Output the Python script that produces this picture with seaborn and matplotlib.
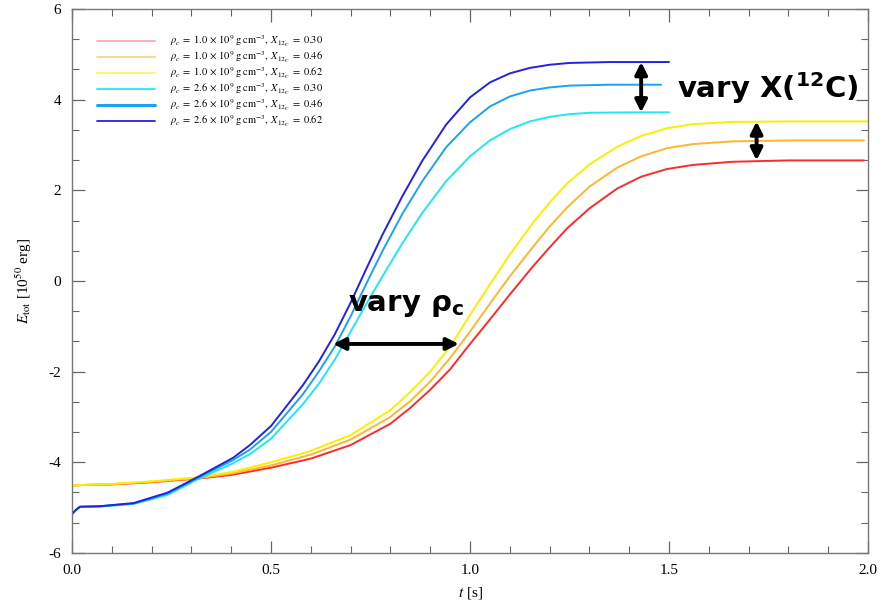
import numpy as np
import pandas as pd
import matplotlib
matplotlib.use("Agg")
import matplotlib.pyplot as plt
import seaborn as sns

# curves: t [s], E_tot [1e50 erg]
t_blue_062 = [0.0, 0.01, 0.02, 0.07, 0.155, 0.24, 0.317, 0.405, 0.447, 0.5, 0.58, 0.62, 0.66, 0.70,
              0.74, 0.78, 0.83, 0.88, 0.94, 1.0, 1.05, 1.1, 1.15, 1.2, 1.25, 1.35, 1.5]
e_blue_062 = [-5.14, -5.05, -4.98, -4.97, -4.90, -4.67, -4.32, -3.90, -3.62, -3.20, -2.30, -1.78, -1.18, -0.48,
              0.28, 1.02, 1.87, 2.65, 3.45, 4.05, 4.38, 4.58, 4.70, 4.77, 4.81, 4.83, 4.83]

t_blue_046 = [0.0, 0.01, 0.02, 0.07, 0.155, 0.24, 0.317, 0.405, 0.447, 0.5, 0.58, 0.62, 0.66, 0.70,
              0.74, 0.78, 0.83, 0.88, 0.94, 1.0, 1.05, 1.1, 1.15, 1.2, 1.25, 1.35, 1.48]
e_blue_046 = [-5.14, -5.05, -4.98, -4.97, -4.91, -4.69, -4.34, -3.95, -3.72, -3.33, -2.50, -2.00, -1.45, -0.78,
              -0.05, 0.66, 1.48, 2.20, 2.95, 3.50, 3.85, 4.07, 4.20, 4.27, 4.31, 4.33, 4.33]

t_blue_030 = [0.0, 0.01, 0.02, 0.07, 0.155, 0.24, 0.317, 0.405, 0.447, 0.5, 0.58, 0.62, 0.66, 0.70,
              0.74, 0.78, 0.83, 0.88, 0.94, 1.0, 1.05, 1.1, 1.15, 1.2, 1.25, 1.3, 1.4, 1.5]
e_blue_030 = [-5.14, -5.05, -4.99, -4.98, -4.92, -4.72, -4.37, -4.02, -3.82, -3.48, -2.72, -2.27, -1.74, -1.12,
              -0.50, 0.10, 0.83, 1.50, 2.20, 2.75, 3.10, 3.35, 3.52, 3.62, 3.68, 3.71, 3.72, 3.72]

t_low_062 = [0.0, 0.01, 0.03, 0.1, 0.2, 0.317, 0.4, 0.5, 0.6, 0.7, 0.8, 0.85, 0.9, 0.95, 1.0,
             1.05, 1.1, 1.158, 1.2, 1.244, 1.3, 1.37, 1.43, 1.495, 1.56, 1.66, 1.8, 2.0]
e_low_062 = [-4.53, -4.51, -4.50, -4.48, -4.42, -4.33, -4.22, -4.00, -3.75, -3.40, -2.85, -2.45, -2.00, -1.45, -0.75,
             -0.08, 0.58, 1.28, 1.73, 2.15, 2.57, 2.96, 3.20, 3.37, 3.46, 3.51, 3.52, 3.52]

t_low_046 = [0.0, 0.01, 0.03, 0.1, 0.2, 0.317, 0.4, 0.5, 0.6, 0.7, 0.8, 0.85, 0.9, 0.95, 1.0,
             1.05, 1.1, 1.158, 1.2, 1.244, 1.3, 1.37, 1.43, 1.495, 1.56, 1.66, 1.8, 1.99]
e_low_046 = [-4.53, -4.51, -4.50, -4.48, -4.43, -4.35, -4.25, -4.07, -3.83, -3.50, -3.00, -2.65, -2.22, -1.70, -1.12,
             -0.50, 0.10, 0.75, 1.20, 1.62, 2.08, 2.50, 2.75, 2.93, 3.02, 3.08, 3.10, 3.10]

t_low_030 = [0.0, 0.01, 0.03, 0.1, 0.2, 0.317, 0.4, 0.5, 0.6, 0.7, 0.8, 0.85, 0.9, 0.95, 0.99,
             1.05, 1.1, 1.158, 1.2, 1.244, 1.3, 1.37, 1.43, 1.495, 1.56, 1.66, 1.8, 1.99]
e_low_030 = [-4.53, -4.51, -4.50, -4.49, -4.44, -4.36, -4.28, -4.12, -3.92, -3.62, -3.15, -2.80, -2.40, -1.95, -1.50,
             -0.85, -0.30, 0.32, 0.74, 1.16, 1.60, 2.04, 2.30, 2.47, 2.56, 2.63, 2.66, 2.66]

labels = [
    r"$\rho_c\;=\;1.0\,\times\,10^9\;\mathrm{g\;cm^{-3}},\;X_{12_{\mathrm{C}}}\;=\;0.30$",
    r"$\rho_c\;=\;1.0\,\times\,10^9\;\mathrm{g\;cm^{-3}},\;X_{12_{\mathrm{C}}}\;=\;0.46$",
    r"$\rho_c\;=\;1.0\,\times\,10^9\;\mathrm{g\;cm^{-3}},\;X_{12_{\mathrm{C}}}\;=\;0.62$",
    r"$\rho_c\;=\;2.6\,\times\,10^9\;\mathrm{g\;cm^{-3}},\;X_{12_{\mathrm{C}}}\;=\;0.30$",
    r"$\rho_c\;=\;2.6\,\times\,10^9\;\mathrm{g\;cm^{-3}},\;X_{12_{\mathrm{C}}}\;=\;0.46$",
    r"$\rho_c\;=\;2.6\,\times\,10^9\;\mathrm{g\;cm^{-3}},\;X_{12_{\mathrm{C}}}\;=\;0.62$",
]
colors = ["#ff2a2a", "#ffb52e", "#f8f000", "#1ee8f5", "#1aa3f0", "#2222e0"]
series_t = [t_low_030, t_low_046, t_low_062, t_blue_030, t_blue_046, t_blue_062]
series_e = [e_low_030, e_low_046, e_low_062, e_blue_030, e_blue_046, e_blue_062]

frames = []
for lab, tt, ee in zip(labels, series_t, series_e):
    frames.append(pd.DataFrame({"t": tt, "E": ee, "model": lab}))
df = pd.concat(frames, ignore_index=True)

sns.set_style("ticks")
plt.rcParams["font.family"] = ["Liberation Serif", "DejaVu Serif"]
plt.rcParams["mathtext.fontset"] = "stix"
plt.rcParams["axes.unicode_minus"] = False
for key in ["text.color", "axes.labelcolor", "xtick.labelcolor", "ytick.labelcolor"]:
    plt.rcParams[key] = "black"

fig = plt.figure(figsize=(8.85, 6.01), dpi=100)
ax = fig.add_axes([0.0814, 0.080, 0.8994, 0.905])

sns.lineplot(data=df, x="t", y="E", hue="model", palette=dict(zip(labels, colors)),
             hue_order=labels, sort=False, estimator=None, linewidth=1.4, ax=ax)

ax.set_xlim(0, 2.0)
ax.set_ylim(-6, 6)
ax.set_xticks([0.0, 0.5, 1.0, 1.5, 2.0])
ax.set_xticklabels(["0.0", "0.5", "1.0", "1.5", "2.0"])
ax.set_yticks([-6, -4, -2, 0, 2, 4, 6])
ax.set_xticks(np.arange(0, 2.01, 0.1), minor=True)
ax.set_yticks(np.arange(-6, 6.01, 2 / 3), minor=True)
ax.tick_params(which="both", direction="in", top=True, right=True, color="#666666",
               labelsize=11, pad=8)
ax.tick_params(which="major", length=9, width=0.9)
ax.tick_params(which="minor", length=5, width=0.8)
for sp in ax.spines.values():
    sp.set_color("#777777")
    sp.set_linewidth(1.0)

ax.set_xlabel(r"$t$ [s]", fontsize=11, labelpad=6)
ax.set_ylabel(r"$E_{\rm tot}$ [10$^{50}$ erg]", fontsize=11, labelpad=10)

leg = ax.legend(loc="upper left", bbox_to_anchor=(0.02, 0.972), frameon=False, fontsize=7.5,
                handlelength=5.5, labelspacing=0.05, handletextpad=1.45)
for i, line in enumerate(leg.get_lines()):
    line.set_linewidth(2.2 if i == 4 else 1.3)
    if i == 0:
        line.set_alpha(0.4)
    if i in (1, 2):
        line.set_alpha(0.6)

arrow = dict(arrowstyle="<|-|>", color="black", lw=2.8, mutation_scale=18, shrinkA=0, shrinkB=0)
ax.annotate("", xy=(0.656, -1.39), xytext=(0.972, -1.39), arrowprops=arrow)
ax.annotate("", xy=(1.43, 4.83), xytext=(1.43, 3.72), arrowprops=arrow)
ax.annotate("", xy=(1.72, 3.52), xytext=(1.72, 2.66), arrowprops=arrow)

ax.text(0.84, -0.53, r"vary ρ$_{\mathbf{c}}$", fontsize=21, fontweight="bold", color="black",
        family="DejaVu Sans", math_fontfamily="dejavusans", ha="center", va="center")
ax.text(1.748, 4.26, r"vary X($^{\mathbf{12}}$C)", fontsize=21, fontweight="bold", color="black",
        family="DejaVu Sans", math_fontfamily="dejavusans", ha="center", va="center")

fig.savefig("out.png", dpi=100)
